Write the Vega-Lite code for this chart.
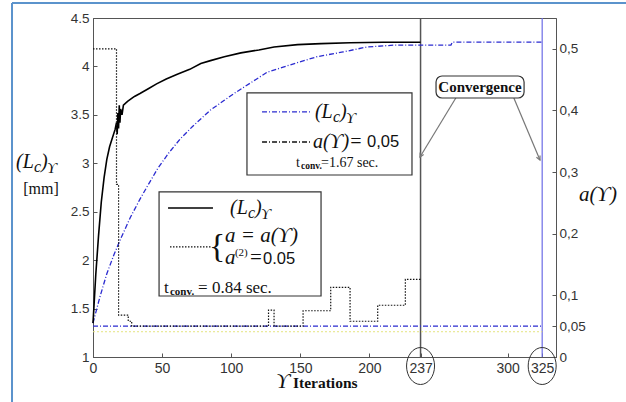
{
  "$schema": "https://vega.github.io/schema/vega-lite/v6.json",
  "width": 463,
  "height": 339,
  "autosize": {"type": "none"},
  "padding": {"left": 93, "top": 18, "right": 70, "bottom": 45},
  "background": "white",
  "config": {
    "view": {"stroke": "#555555", "strokeWidth": 1},
    "axis": {"grid": false, "labelFont": "Liberation Sans", "labelFontSize": 13.5, "labelColor": "#333333", "domainColor": "#555555", "tickColor": "#555555", "tickSize": -4},
    "text": {"font": "Liberation Serif", "color": "#111111"}
  },
  "datasets": {
    "lcAdapt": [
      {"x": 0, "y": 1.35}, {"x": 2, "y": 1.85}, {"x": 4, "y": 2.25}, {"x": 6, "y": 2.6}, {"x": 8, "y": 2.85},
      {"x": 10, "y": 3.04}, {"x": 12, "y": 3.17}, {"x": 14, "y": 3.26}, {"x": 16, "y": 3.35}, {"x": 17, "y": 3.42},
      {"x": 17.5, "y": 3.3}, {"x": 18, "y": 3.52}, {"x": 18.5, "y": 3.36}, {"x": 19, "y": 3.6}, {"x": 19.5, "y": 3.42},
      {"x": 20, "y": 3.56}, {"x": 21, "y": 3.5}, {"x": 22, "y": 3.6}, {"x": 25, "y": 3.64}, {"x": 30, "y": 3.69},
      {"x": 34, "y": 3.72}, {"x": 40, "y": 3.77}, {"x": 46, "y": 3.82}, {"x": 53, "y": 3.87}, {"x": 61, "y": 3.92},
      {"x": 70, "y": 3.97}, {"x": 78, "y": 4.03}, {"x": 85, "y": 4.06}, {"x": 95, "y": 4.1}, {"x": 107, "y": 4.14},
      {"x": 120, "y": 4.17}, {"x": 131, "y": 4.2}, {"x": 148, "y": 4.225}, {"x": 165, "y": 4.235}, {"x": 186, "y": 4.245},
      {"x": 210, "y": 4.25}, {"x": 237, "y": 4.25}
    ],
    "lcFixed": [
      {"x": 0, "y": 1.35}, {"x": 5, "y": 1.62}, {"x": 10, "y": 1.86}, {"x": 15, "y": 2.05}, {"x": 20, "y": 2.22},
      {"x": 27, "y": 2.44}, {"x": 34, "y": 2.63}, {"x": 40, "y": 2.78}, {"x": 47, "y": 2.95}, {"x": 55, "y": 3.11},
      {"x": 63, "y": 3.25}, {"x": 72, "y": 3.38}, {"x": 85, "y": 3.55}, {"x": 95, "y": 3.65}, {"x": 102, "y": 3.72},
      {"x": 114, "y": 3.83}, {"x": 126, "y": 3.94}, {"x": 137, "y": 3.99}, {"x": 148, "y": 4.04}, {"x": 162, "y": 4.1},
      {"x": 181, "y": 4.15}, {"x": 198, "y": 4.2}, {"x": 218, "y": 4.22}, {"x": 237, "y": 4.22}, {"x": 259, "y": 4.22},
      {"x": 260, "y": 4.25}, {"x": 325, "y": 4.25}
    ],
    "aAdapt": [
      {"x": 0, "a": 0.5}, {"x": 17, "a": 0.28}, {"x": 18.5, "a": 0.068}, {"x": 25.5, "a": 0.058}, {"x": 28, "a": 0.05},
      {"x": 127, "a": 0.076}, {"x": 131, "a": 0.05}, {"x": 152, "a": 0.075}, {"x": 172, "a": 0.113}, {"x": 186, "a": 0.058},
      {"x": 206, "a": 0.084}, {"x": 226, "a": 0.126}, {"x": 237, "a": 0.126}
    ],
    "aFixed": [{"x": 0, "a": 0.05}, {"x": 325, "a": 0.05}],
    "aFaint": [{"x": 0, "a": 0.041}, {"x": 325, "a": 0.041}],
    "mathL": [{"x": -55.7, "y": 3.013}, {"x": 160.6, "y": 3.53}, {"x": 99.1, "y": 2.538}]
  },
  "layer": [
    {
      "encoding": {
        "x": {"field": "x", "type": "quantitative", "scale": {"domain": [0, 335], "nice": false, "zero": false},
              "axis": {"values": [0, 50, 100, 150, 200, 237, 300, 325], "title": null, "labelPadding": 8, "labelFlush": false, "labelFontSize": 14, "labelOverlap": false, "labelExpr": "toString(datum.value)"}},
        "y": {"field": "y", "type": "quantitative", "scale": {"domain": [1, 4.5], "nice": false, "zero": false},
              "axis": {"values": [1, 1.5, 2, 2.5, 3, 3.5, 4, 4.5], "title": null, "labelPadding": 8, "labelExpr": "toString(datum.value)"}}
      },
      "layer": [
        {"data": {"values": [{"x": -58.6, "y": 0.536, "y2": 4.655}]}, "mark": {"type": "rule", "color": "#5b93cc", "strokeWidth": 2, "clip": false}, "encoding": {"y2": {"field": "y2"}}},
        {"data": {"values": [{"x": -58.6, "x2": 385.7, "y": 4.655}]}, "mark": {"type": "rule", "color": "#5b93cc", "strokeWidth": 2, "clip": false}, "encoding": {"x2": {"field": "x2"}}},
        {"data": {"values": [{"x": 237, "y": 1, "y2": 4.5}]}, "mark": {"type": "rule", "color": "#555555", "strokeWidth": 1.5}, "encoding": {"y2": {"field": "y2"}}},
        {"data": {"values": [{"x": 325, "y": 1, "y2": 4.5}]}, "mark": {"type": "rule", "color": "#6b6be6", "strokeWidth": 1.2}, "encoding": {"y2": {"field": "y2"}}},
        {"data": {"name": "lcFixed"}, "mark": {"type": "line", "color": "#2b2bd0", "strokeWidth": 1.3, "strokeDash": [5, 2, 1, 2]}, "encoding": {}},
        {"data": {"name": "lcAdapt"}, "mark": {"type": "line", "color": "#000000", "strokeWidth": 1.6}, "encoding": {}},
        {"data": {"values": [{"x": 262.5, "y": 3.674, "x2": 236.6, "y2": 3.065}, {"x": 304.5, "y": 3.674, "x2": 323.4, "y2": 3.034}]},
         "mark": {"type": "rule", "color": "#777777", "strokeWidth": 1.2}, "encoding": {"x2": {"field": "x2"}, "y2": {"field": "y2"}}},
        {"data": {"values": [{"x": 236.6, "y": 3.065}]}, "mark": {"type": "point", "shape": "M -0.5 -1 L 0 0 L 0.5 -1", "filled": false, "stroke": "#777777", "strokeWidth": 1.2, "size": 64, "angle": 28, "opacity": 1}, "encoding": {}},
        {"data": {"values": [{"x": 323.4, "y": 3.034}]}, "mark": {"type": "point", "shape": "M -0.5 -1 L 0 0 L 0.5 -1", "filled": false, "stroke": "#777777", "strokeWidth": 1.2, "size": 64, "angle": -26, "opacity": 1}, "encoding": {}},
        {"data": {"values": [{"x": 111.4, "x2": 230.8, "y": 3.726, "y2": 2.879}, {"x": 47.8, "x2": 165.0, "y": 2.704, "y2": 1.63}]},
         "mark": {"type": "rect", "fill": "white", "stroke": "#333333", "strokeWidth": 1.2}, "encoding": {"x2": {"field": "x2"}, "y2": {"field": "y2"}}},
        {"data": {"values": [{"x": 248.2, "x2": 311.9, "y": 3.901, "y2": 3.674}]},
         "mark": {"type": "rect", "fill": "white", "stroke": "#333333", "strokeWidth": 1.2, "cornerRadius": 6}, "encoding": {"x2": {"field": "x2"}, "y2": {"field": "y2"}}},
        {"data": {"values": [{"x": 122.3, "x2": 158.5, "y": 3.53}]}, "mark": {"type": "rule", "color": "#2b2bd0", "strokeWidth": 1.3, "strokeDash": [5, 2, 1, 2]}, "encoding": {"x2": {"field": "x2"}}},
        {"data": {"values": [{"x": 122.3, "x2": 158.5, "y": 3.22}]}, "mark": {"type": "rule", "color": "#111111", "strokeWidth": 1.3, "strokeDash": [5, 2, 1, 2]}, "encoding": {"x2": {"field": "x2"}}},
        {"data": {"values": [{"x": 54.3, "x2": 86.8, "y": 2.538}]}, "mark": {"type": "rule", "color": "#000000", "strokeWidth": 1.6}, "encoding": {"x2": {"field": "x2"}}},
        {"data": {"values": [{"x": 55.7, "x2": 86.0, "y": 2.136}]}, "mark": {"type": "rule", "color": "#111111", "strokeWidth": 1.2, "strokeDash": [1.5, 1.5]}, "encoding": {"x2": {"field": "x2"}}},
        {"data": {"name": "mathL"}, "mark": {"type": "text", "text": "(L", "align": "left", "fontStyle": "italic", "fontSize": 20}, "encoding": {}},
        {"data": {"name": "mathL"}, "mark": {"type": "text", "text": "c", "align": "left", "fontStyle": "italic", "fontSize": 16, "dx": 18, "dy": 5}, "encoding": {}},
        {"data": {"name": "mathL"}, "mark": {"type": "text", "text": ")", "align": "left", "fontStyle": "italic", "fontSize": 20, "dx": 25}, "encoding": {}},
        {"data": {"name": "mathL"}, "mark": {"type": "text", "text": "ϒ", "align": "left", "fontStyle": "italic", "fontSize": 15, "dx": 31, "dy": 6}, "encoding": {}},
        {"data": {"values": [{"x": -37.6, "y": 2.735, "t": "[mm]"}]}, "mark": {"type": "text", "fontSize": 16}, "encoding": {"text": {"field": "t"}}},
        {"data": {"values": [{"x": 159.2, "y": 3.22, "t": "a(ϒ)="}]}, "mark": {"type": "text", "align": "left", "fontStyle": "italic", "fontSize": 20}, "encoding": {"text": {"field": "t"}}},
        {"data": {"values": [{"x": 198.3, "y": 3.22, "t": "0,05"}, {"x": 123.0, "y": 2.012, "t": "0.05"}]}, "mark": {"type": "text", "align": "left", "font": "Liberation Sans", "fontSize": 16.5}, "encoding": {"text": {"field": "t"}}},
        {"data": {"values": [{"x": 146.9, "y": 3.003, "t": "t"}, {"x": 165.0, "y": 3.003, "t": "=1.67 sec."}]}, "mark": {"type": "text", "align": "left", "fontSize": 14}, "encoding": {"text": {"field": "t"}}},
        {"data": {"values": [{"x": 150.5, "y": 2.972, "t": "conv."}]}, "mark": {"type": "text", "align": "left", "fontWeight": "bold", "fontSize": 9.5}, "encoding": {"text": {"field": "t"}}},
        {"data": {"values": [{"x": 51.4, "y": 1.712, "t": "t"}, {"x": 76.0, "y": 1.712, "t": "= 0.84 sec."}]}, "mark": {"type": "text", "align": "left", "fontSize": 17}, "encoding": {"text": {"field": "t"}}},
        {"data": {"values": [{"x": 55.7, "y": 1.671, "t": "conv."}]}, "mark": {"type": "text", "align": "left", "fontWeight": "bold", "fontSize": 11}, "encoding": {"text": {"field": "t"}}},
        {"data": {"values": [{"x": 89.8, "y": 2.136, "t": "{"}]}, "mark": {"type": "text", "fontSize": 34}, "encoding": {"text": {"field": "t"}}},
        {"data": {"values": [{"x": 95.5, "y": 2.249, "t": "a = a(ϒ)"}, {"x": 95.5, "y": 2.022, "t": "a"}]}, "mark": {"type": "text", "align": "left", "fontStyle": "italic", "fontSize": 21}, "encoding": {"text": {"field": "t"}}},
        {"data": {"values": [{"x": 102.7, "y": 2.074, "t": "(2)"}]}, "mark": {"type": "text", "align": "left", "fontSize": 11}, "encoding": {"text": {"field": "t"}}},
        {"data": {"values": [{"x": 113.6, "y": 2.022, "t": "="}]}, "mark": {"type": "text", "align": "left", "fontSize": 21}, "encoding": {"text": {"field": "t"}}},
        {"data": {"values": [{"x": 280.0, "y": 3.788, "t": "Convergence"}]}, "mark": {"type": "text", "fontWeight": "bold", "fontSize": 15}, "encoding": {"text": {"field": "t"}}},
        {"data": {"values": [{"x": 365.4, "y": 2.673, "t": "a(ϒ)"}, {"x": 137.5, "y": 0.742, "t": "ϒ"}]}, "mark": {"type": "text", "fontStyle": "italic", "fontSize": 21}, "encoding": {"text": {"field": "t"}}},
        {"data": {"values": [{"x": 144.7, "y": 0.732, "t": "Iterations"}]}, "mark": {"type": "text", "align": "left", "fontWeight": "bold", "fontSize": 15.5}, "encoding": {"text": {"field": "t"}}},
        {"data": {"values": [{"x": 237, "y": 0.907}, {"x": 325, "y": 0.907}]}, "mark": {"type": "point", "shape": "M -1 0 A 1 1.32 0 1 1 1 0 A 1 1.32 0 1 1 -1 0 Z", "filled": false, "stroke": "#333333", "strokeWidth": 1, "size": 784, "opacity": 1}, "encoding": {}}
      ]
    },
    {
      "encoding": {
        "x": {"field": "x", "type": "quantitative", "scale": {"domain": [0, 335], "nice": false, "zero": false},
              "axis": {"values": [0, 50, 100, 150, 200, 237, 300, 325], "title": null, "labelPadding": 8, "labelFlush": false, "labelFontSize": 14, "labelOverlap": false, "labelExpr": "toString(datum.value)"}},
        "y": {"field": "a", "type": "quantitative", "scale": {"domain": [0, 0.55], "nice": false, "zero": false},
              "axis": {"orient": "right", "values": [0, 0.05, 0.1, 0.2, 0.3, 0.4, 0.5], "title": null, "labelPadding": 7, "labelExpr": "replace(toString(datum.value), '.', ',')"}}
      },
      "layer": [
        {"data": {"name": "aFaint"}, "mark": {"type": "line", "color": "#e4e480", "strokeWidth": 1, "strokeDash": [2, 2]}, "encoding": {}},
        {"data": {"name": "aFixed"}, "mark": {"type": "line", "color": "#2b2bd0", "strokeWidth": 1.3, "strokeDash": [5, 2, 1, 2]}, "encoding": {}},
        {"data": {"name": "aAdapt"}, "mark": {"type": "line", "color": "#111111", "strokeWidth": 1.2, "strokeDash": [1.5, 1.5], "interpolate": "step-after"}, "encoding": {}}
      ]
    }
  ],
  "resolve": {"scale": {"y": "independent"}}
}
